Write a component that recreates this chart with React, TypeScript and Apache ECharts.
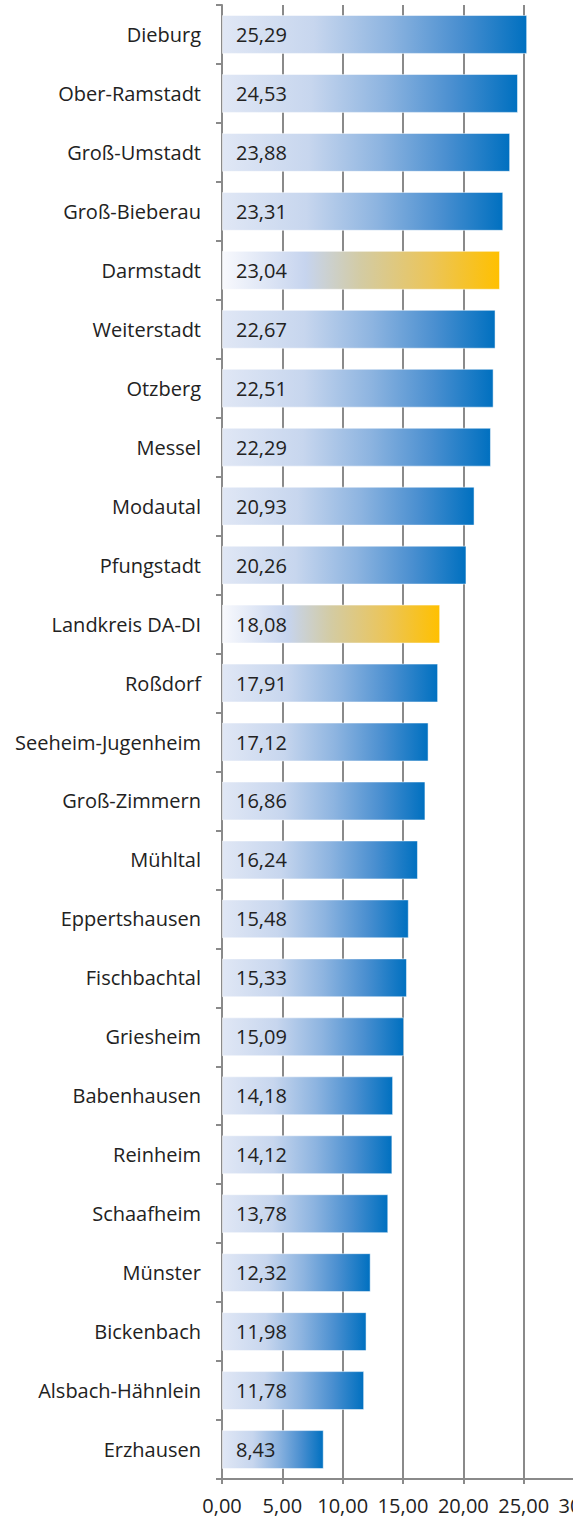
import React, { useEffect, useRef } from "react";
import * as echarts from "echarts";

const categories = [
  "Dieburg", "Ober-Ramstadt", "Groß-Umstadt", "Groß-Bieberau", "Darmstadt",
  "Weiterstadt", "Otzberg", "Messel", "Modautal", "Pfungstadt",
  "Landkreis DA-DI", "Roßdorf", "Seeheim-Jugenheim", "Groß-Zimmern", "Mühltal",
  "Eppertshausen", "Fischbachtal", "Griesheim", "Babenhausen", "Reinheim",
  "Schaafheim", "Münster", "Bickenbach", "Alsbach-Hähnlein", "Erzhausen",
];
const values = [
  25.29, 24.53, 23.88, 23.31, 23.04,
  22.67, 22.51, 22.29, 20.93, 20.26,
  18.08, 17.91, 17.12, 16.86, 16.24,
  15.48, 15.33, 15.09, 14.18, 14.12,
  13.78, 12.32, 11.98, 11.78, 8.43,
];
const highlighted = ["Darmstadt", "Landkreis DA-DI"];
const xTicks = { min: 0, max: 30, interval: 5 };

const FONT = "'Open Sans', 'Noto Sans', sans-serif";
const GRID_COLOR = "#8a8a8a";

function fmt(v: number) {
  return v.toFixed(2).replace(".", ",");
}

const blueGrad = () =>
  new echarts.graphic.LinearGradient(0, 0, 1, 0, [
    { offset: 0, color: "#e0e7f5" },
    { offset: 0.3, color: "#c7d6ee" },
    { offset: 0.55, color: "#8db4e0" },
    { offset: 0.78, color: "#4a8fd0" },
    { offset: 1, color: "#0070c0" },
  ]);
const goldGrad = () =>
  new echarts.graphic.LinearGradient(0, 0, 1, 0, [
    { offset: 0, color: "#f8f9fd" },
    { offset: 0.3, color: "#c6d4ee" },
    { offset: 0.5, color: "#d3cba3" },
    { offset: 0.75, color: "#ebc55a" },
    { offset: 1, color: "#ffc000" },
  ]);

export default function App() {
  const ref = useRef<HTMLDivElement>(null);
  useEffect(() => {
    if (!ref.current) return;
    const chart = echarts.init(ref.current, undefined, { renderer: "svg" });
    chart.setOption({
      animation: false,
      grid: {
        left: 222,
        top: 5,
        width: 362,
        height: 1474,
        containLabel: false,
        outerBoundsMode: "none",
      },
      xAxis: {
        type: "value",
        min: xTicks.min,
        max: xTicks.max,
        interval: xTicks.interval,
        axisLine: { show: true, lineStyle: { color: GRID_COLOR, width: 2 } },
        axisTick: { show: true, length: 5, lineStyle: { color: GRID_COLOR, width: 2 } },
        splitLine: { show: true, lineStyle: { color: GRID_COLOR, width: 2 } },
        axisLabel: {
          formatter: (v: number) => fmt(v),
          color: "#222",
          fontSize: 20,
          fontFamily: FONT,
          margin: 16,
          showMaxLabel: true,
          hideOverlap: false,
        },
      },
      yAxis: {
        type: "category",
        inverse: true,
        data: categories,
        axisLine: { show: true, lineStyle: { color: GRID_COLOR, width: 2 } },
        axisTick: { show: true, length: 6, lineStyle: { color: GRID_COLOR, width: 2 } },
        axisLabel: {
          color: "#222",
          fontSize: 20,
          fontFamily: FONT,
          margin: 21,
          interval: 0,
        },
        splitLine: { show: false },
      },
      series: [
        {
          type: "bar",
          barCategoryGap: "34%",
          data: values.map((v, i) => ({
            value: v,
            itemStyle: {
              color: highlighted.includes(categories[i]) ? goldGrad() : blueGrad(),
              borderColor: "rgba(255,255,255,0.5)",
              borderWidth: 1,
            },
          })),
          label: {
            show: true,
            position: "insideLeft",
            distance: 14,
            formatter: (p: any) => fmt(p.value),
            color: "#222",
            fontSize: 20,
            fontFamily: FONT,
          },
        },
      ],
    });
    return () => chart.dispose();
  }, []);
  return (
    <div
      ref={ref}
      style={{ position: "absolute", left: 0, top: 0, width: 573, height: 1517, background: "#fff" }}
    />
  );
}
